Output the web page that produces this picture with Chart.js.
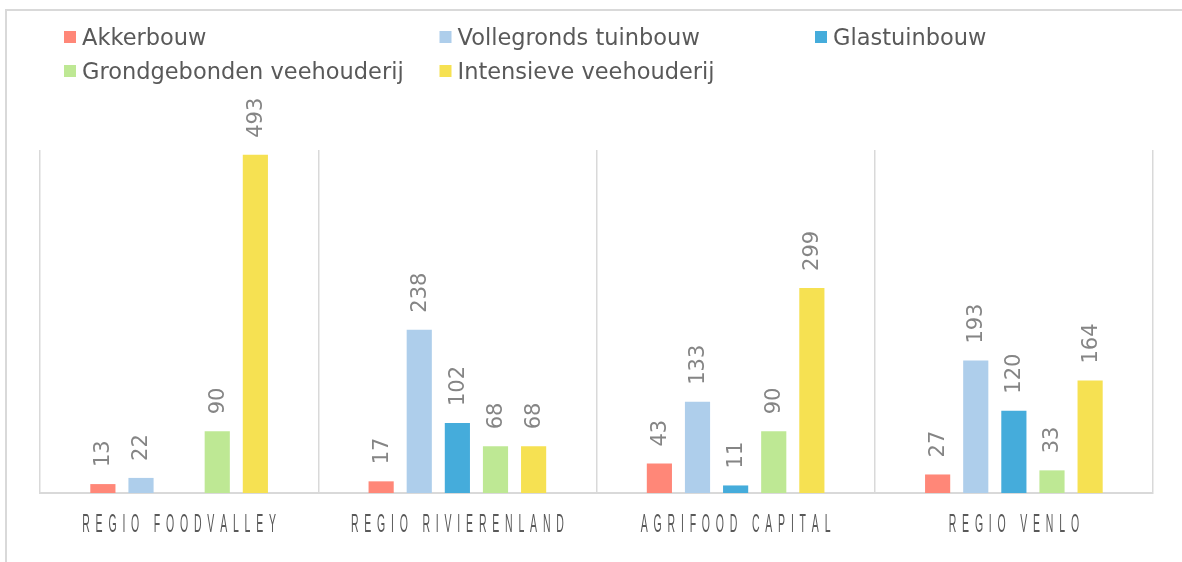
<!DOCTYPE html>
<html>
<head>
<meta charset="utf-8">
<script src="https://cdn.jsdelivr.net/npm/chart.js@4/dist/chart.umd.min.js"></script>
<style>
  html, body { margin: 0; padding: 0; background: #fff; overflow: hidden; }
  canvas { display: block; }
</style>
</head>
<body>
<canvas id="c" width="1182" height="562"></canvas>
<script>
const categories = ['REGIO FOODVALLEY', 'REGIO RIVIERENLAND', 'AGRIFOOD CAPITAL', 'REGIO VENLO'];
const seriesNames = ['Akkerbouw', 'Vollegronds tuinbouw', 'Glastuinbouw', 'Grondgebonden veehouderij', 'Intensieve veehouderij'];
const akkerbouw = [13, 17, 43, 27];
const vollegrondsTuinbouw = [22, 238, 133, 193];
const glastuinbouw = [null, 102, 11, 120];
const grondgebondenVeehouderij = [90, 68, 90, 33];
const intensieveVeehouderij = [493, 68, 299, 164];
const seriesColors = ['#FF8778', '#AECEEB', '#45ACDB', '#BEE894', '#F6E152'];
const yMax = 500;

const seriesValues = [akkerbouw, vollegrondsTuinbouw, glastuinbouw, grondgebondenVeehouderij, intensieveVeehouderij];

const datasets = seriesNames.map((name, i) => ({
  label: name,
  data: seriesValues[i],
  backgroundColor: seriesColors[i],
  borderWidth: 0,
  barPercentage: 0.66,
  categoryPercentage: 0.685
}));

const framePlugin = {
  id: 'frame',
  beforeDraw(chart) {
    const ctx = chart.ctx;
    ctx.save();
    ctx.fillStyle = '#ffffff';
    ctx.fillRect(0, 0, chart.width, chart.height);
    ctx.strokeStyle = '#d9d9d9';
    ctx.lineWidth = 2;
    ctx.beginPath();
    ctx.moveTo(6, chart.height + 5);
    ctx.lineTo(6, 10);
    ctx.lineTo(chart.width + 5, 10);
    ctx.stroke();
    ctx.restore();
  }
};

const legendPlugin = {
  id: 'gridLegend',
  afterDraw(chart) {
    const ctx = chart.ctx;
    const colX = [64, 439.5, 815];
    const rowBase = [45, 79];
    ctx.save();
    ctx.font = '22.5px "DejaVu Sans"';
    ctx.textBaseline = 'alphabetic';
    ctx.textAlign = 'left';
    chart.data.datasets.forEach((ds, i) => {
      const col = i % 3, row = Math.floor(i / 3);
      const x = colX[col], yb = rowBase[row];
      ctx.fillStyle = ds.backgroundColor;
      ctx.fillRect(x, yb - 14, 12, 12);
      ctx.fillStyle = '#595959';
      ctx.fillText(ds.label, x + 18, yb);
    });
    ctx.restore();
  }
};

const barLabelPlugin = {
  id: 'barLabels',
  afterDatasetsDraw(chart) {
    const ctx = chart.ctx;
    ctx.save();
    ctx.font = '21px "DejaVu Sans"';
    ctx.fillStyle = '#858585';
    ctx.textAlign = 'left';
    ctx.textBaseline = 'middle';
    chart.data.datasets.forEach((ds, di) => {
      const meta = chart.getDatasetMeta(di);
      meta.data.forEach((bar, j) => {
        const v = ds.data[j];
        if (v === null || v === undefined) return;
        ctx.save();
        ctx.translate(bar.x + 1, bar.y - 17);
        ctx.rotate(-Math.PI / 2);
        ctx.fillText(String(v), 0, 0);
        ctx.restore();
      });
    });
    ctx.restore();
  }
};

const catLabelPlugin = {
  id: 'catLabels',
  afterDraw(chart) {
    const ctx = chart.ctx;
    const xs = chart.scales.x;
    const sx = 0.42, spacing = 5.8;
    ctx.save();
    ctx.font = '25px "Liberation Sans"';
    ctx.fillStyle = '#595959';
    ctx.textBaseline = 'alphabetic';
    ctx.textAlign = 'left';
    chart.data.labels.forEach((lab, i) => {
      const chars = Array.from(lab);
      const widths = chars.map(ch => ctx.measureText(ch).width * sx);
      const total = widths.reduce((a, b) => a + b, 0) + spacing * (chars.length - 1);
      const cx = xs.getPixelForValue(i);
      let x = cx - total / 2;
      const y = chart.chartArea.bottom + 39;
      chars.forEach((ch, k) => {
        ctx.save();
        ctx.translate(x, y);
        ctx.scale(sx, 1);
        ctx.fillText(ch, 0, 0);
        ctx.restore();
        x += widths[k] + spacing;
      });
    });
    ctx.restore();
  }
};

new Chart(document.getElementById('c'), {
  type: 'bar',
  data: { labels: categories, datasets },
  options: {
    responsive: false,
    animation: false,
    devicePixelRatio: 1,
    layout: { padding: { left: 40, right: 29, top: 150, bottom: 69 } },
    plugins: { legend: { display: false }, tooltip: { enabled: false } },
    scales: {
      x: {
        offset: true,
        ticks: { display: false },
        grid: { display: true, offset: true, color: '#d9d9d9', lineWidth: 1.5, drawTicks: false },
        border: { display: true, color: '#d9d9d9', width: 2 }
      },
      y: {
        display: false,
        min: 0,
        max: yMax
      }
    }
  },
  plugins: [framePlugin, legendPlugin, barLabelPlugin, catLabelPlugin]
});
</script>
</body>
</html>
